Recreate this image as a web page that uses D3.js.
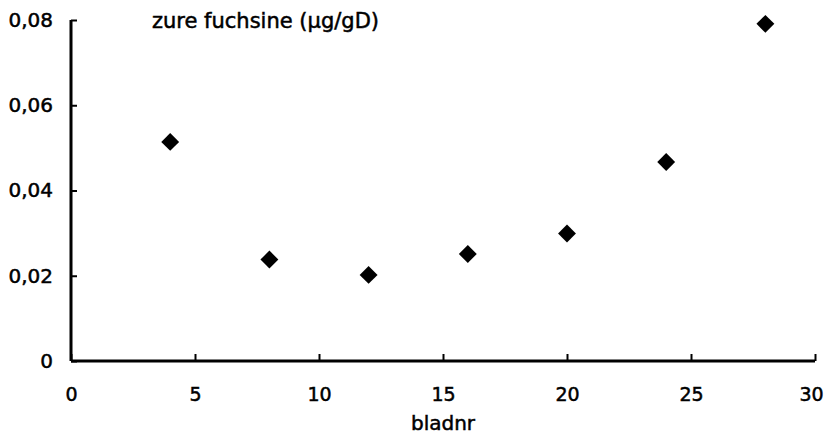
<!DOCTYPE html>
<html><head><meta charset="utf-8">
<script src="https://cdn.jsdelivr.net/npm/d3@7"></script>
<style>body{margin:0;background:#fff}svg{display:block}text{font-family:"DejaVu Sans",sans-serif;fill:#000;stroke:#000;stroke-width:0.5px}</style>
</head><body>
<script>
const bladnr = [4, 8, 12, 16, 20, 24, 28];
const zureFuchsine = [0.0514, 0.0238, 0.0202, 0.0251, 0.0299, 0.0467, 0.0791];
const xTicks = [0, 5, 10, 15, 20, 25, 30];
const yTicks = [0, 0.02, 0.04, 0.06, 0.08];
const title = "zure fuchsine (µg/gD)";
const xTitle = "bladnr";

const W = 826, H = 436;
const FONT = "'DejaVu Sans',sans-serif";
const svg = d3.select("body").append("svg").attr("width", W).attr("height", H);
const x = d3.scaleLinear().domain([0, 30]).range([71, 815]);
const y = d3.scaleLinear().domain([0, 0.08]).range([361, 20]);
const fmt = d => d === 0 ? "0" : d3.format(".2f")(d).replace(".", ",");

const xa = svg.append("g").attr("transform", `translate(0,${y(0)})`)
  .call(d3.axisBottom(x).tickValues(xTicks).tickSize(-7).tickPadding(27).tickFormat(d3.format("d")));
xa.select(".domain").attr("stroke-width", 3).attr("d", `M${x(0)},0H${x(30)}`);
xa.selectAll(".tick line").attr("stroke-width", 2);
xa.selectAll(".tick text").attr("font-size", 19).attr("dy", "0.71em").style("font-family", FONT)
  .attr("dx", d => d === 30 ? -4 : 0);

const ya = svg.append("g").attr("transform", `translate(${x(0)},0)`)
  .call(d3.axisLeft(y).tickValues(yTicks).tickSize(-6).tickPadding(18).tickFormat(fmt));
ya.select(".domain").attr("stroke-width", 3).attr("d", `M0,${y(0.08)}V${y(0)}`);
ya.selectAll(".tick line").attr("stroke-width", 2);
ya.selectAll(".tick text").attr("font-size", 20).style("font-family", FONT);

svg.append("text").attr("x", 152).attr("y", 28).attr("font-size", 21).style("font-family", FONT).text(title);
svg.append("text").attr("x", (x(0) + x(30)) / 2).attr("y", 430).attr("text-anchor", "middle")
  .attr("font-size", 20).style("font-family", FONT).text(xTitle);

const sym = d3.symbol().type(d3.symbolSquare).size(160);
svg.append("g").selectAll("path").data(bladnr).join("path")
  .attr("d", sym)
  .attr("transform", (d, i) => `translate(${x(d)},${y(zureFuchsine[i])}) rotate(45)`)
  .attr("fill", "#000");
</script>
</body></html>
